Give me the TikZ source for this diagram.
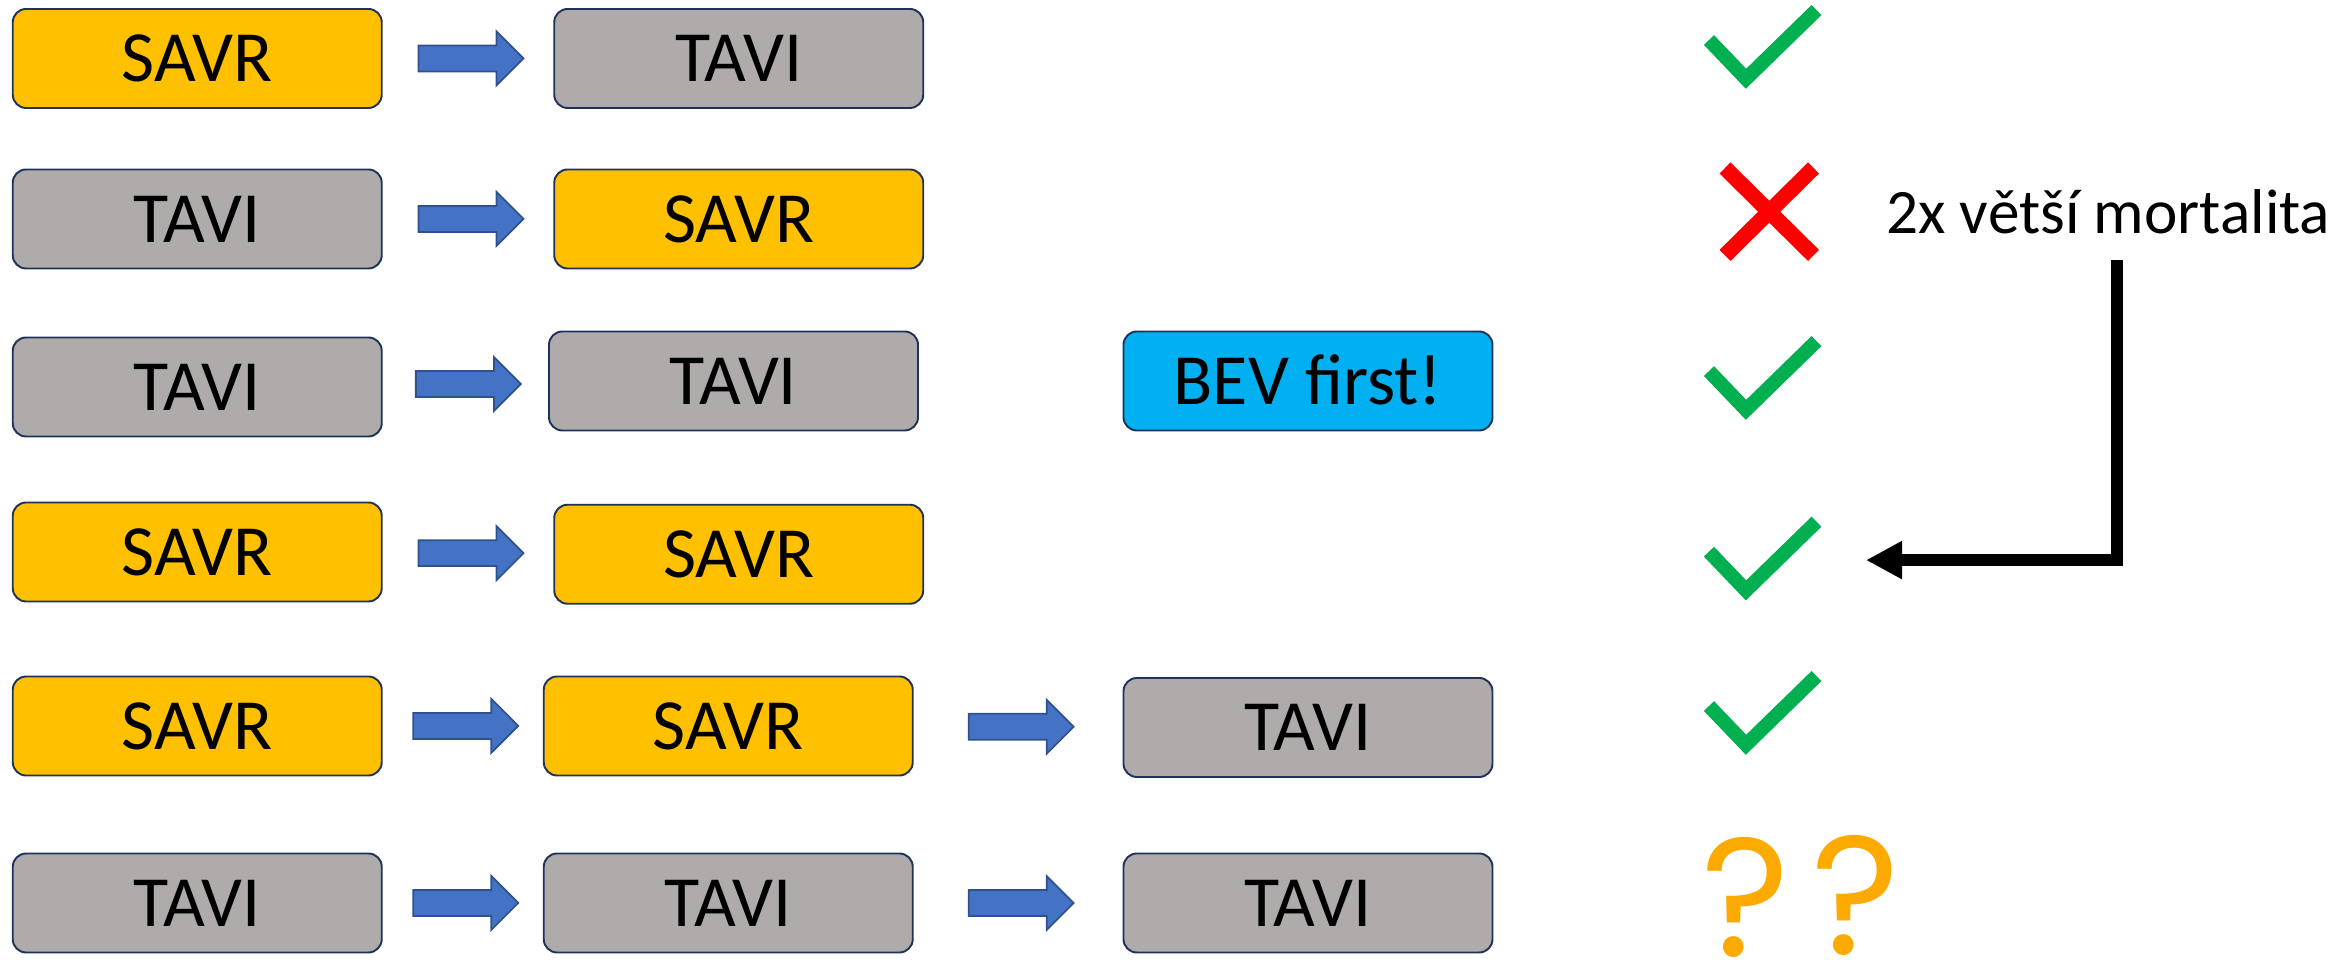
\documentclass[tikz,border=0pt]{standalone}
\usepackage{fontspec}
\setmainfont{Carlito}
\newfontfamily\qfont{Poppins}
\usetikzlibrary{calc,arrows.meta}

\definecolor{savrfill}{RGB}{255,192,0}
\definecolor{tavifill}{RGB}{175,171,171}
\definecolor{bevfill}{RGB}{0,176,240}
\definecolor{boxline}{RGB}{31,50,90}
\definecolor{arrfill}{RGB}{68,114,196}
\definecolor{arrline}{RGB}{47,82,143}
\definecolor{okgreen}{RGB}{0,176,80}
\definecolor{qorange}{RGB}{252,170,0}

% block arrow half way between two boxes
\newcommand{\blockarrow}[2]{%
  \path (#1.east) -- coordinate[midway] (ba) (#2.west);
  \filldraw[blockarr] ($(ba)+(-33,-8.6)$) -- ++(52,0) -- ++(0,-9.4) -- ++(18,18)
    -- ++(-18,18) -- ++(0,-9.4) -- ++(-52,0) -- cycle;
}

\begin{document}
\begin{tikzpicture}[x=0.015cm, y=-0.015cm,
    stage/.style={draw=boxline, line width=0.55pt, rounded corners=3.8pt,
      minimum width=3.69cm, minimum height=0.99cm, inner sep=0pt,
      text height=13.2pt, text depth=0pt, font=\fontsize{20.5}{24}\selectfont},
    savr/.style={stage, fill=savrfill},
    tavi/.style={stage, fill=tavifill},
    bev/.style={stage, fill=bevfill},
    blockarr/.style={fill=arrfill, draw=arrline, line width=0.5pt},
    okmark/.pic={\draw[okgreen, line width=0.141cm] (-24.7,-25.8) -- (0,0) -- (47,-45.8);},
    qmark/.style={text=qorange, inner sep=0pt, anchor=base, font=\qfont\fontsize{48}{54}\selectfont}]
        \useasboundingbox (0,0) rectangle (1567.33,642);

        % Row 1
        \node[savr] (a1) at (131.5,39) {SAVR};
        \node[tavi] (b1) at (492.5,39) {TAVI};

        % Row 2
        \node[tavi] (a2) at (131.5,146) {TAVI};
        \node[savr] (b2) at (492.5,146) {SAVR};

        % Row 3
        \node[tavi] (a3) at (131.5,258) {TAVI};
        \node[tavi] (b3) at (489,254) {TAVI};
        \node[bev] (c3) at (872,254) {BEV first!};

        % Row 4
        \node[savr] (a4) at (131.5,368) {SAVR};
        \node[savr] (b4) at (492.5,369.5) {SAVR};

        % Row 5
        \node[savr] (a5) at (131.5,484) {SAVR};
        \node[savr] (b5) at (485.5,484) {SAVR};
        \node[tavi] (c5) at (872,485) {TAVI};

        % Row 6
        \node[tavi] (a6) at (131.5,602) {TAVI};
        \node[tavi] (b6) at (485.5,602) {TAVI};
        \node[tavi] (c6) at (872,602) {TAVI};

        % Blue arrows between the boxes
        \foreach \from/\to in {a1/b1,a2/b2,a3/b3,a4/b4,a5/b5,b5/c5,a6/b6,b6/c6}
          \blockarrow{\from}{\to};

        % Green ticks
        \foreach \y in {52.5,273.2,393.6,496.5}
          \pic at (1164,\y) {okmark};

        % Red cross
        \draw[red, line width=0.156cm] (1150,112) -- (1209,170.3) (1150,170.3) -- (1209,112);

        % Note and bent arrow down to row 4
        \node[inner sep=0pt, anchor=base west, font=\fontsize{18}{22}\selectfont] (mort) at (1257,155.6) {2x větší mortalita};
        \coordinate (bendtop) at (1411.5,173.3);
        \coordinate (bendtip) at (1244,373.4);
        \draw[line width=0.12cm, -{Triangle[length=0.36cm, width=0.357cm]}] (bendtop) |- (bendtip);

        % Question marks
        \node[qmark] (q1) at (1163.9,638) {?};
        \node[qmark] (q2) at (1237.2,636.5) {?};
      \end{tikzpicture}
\end{document}
